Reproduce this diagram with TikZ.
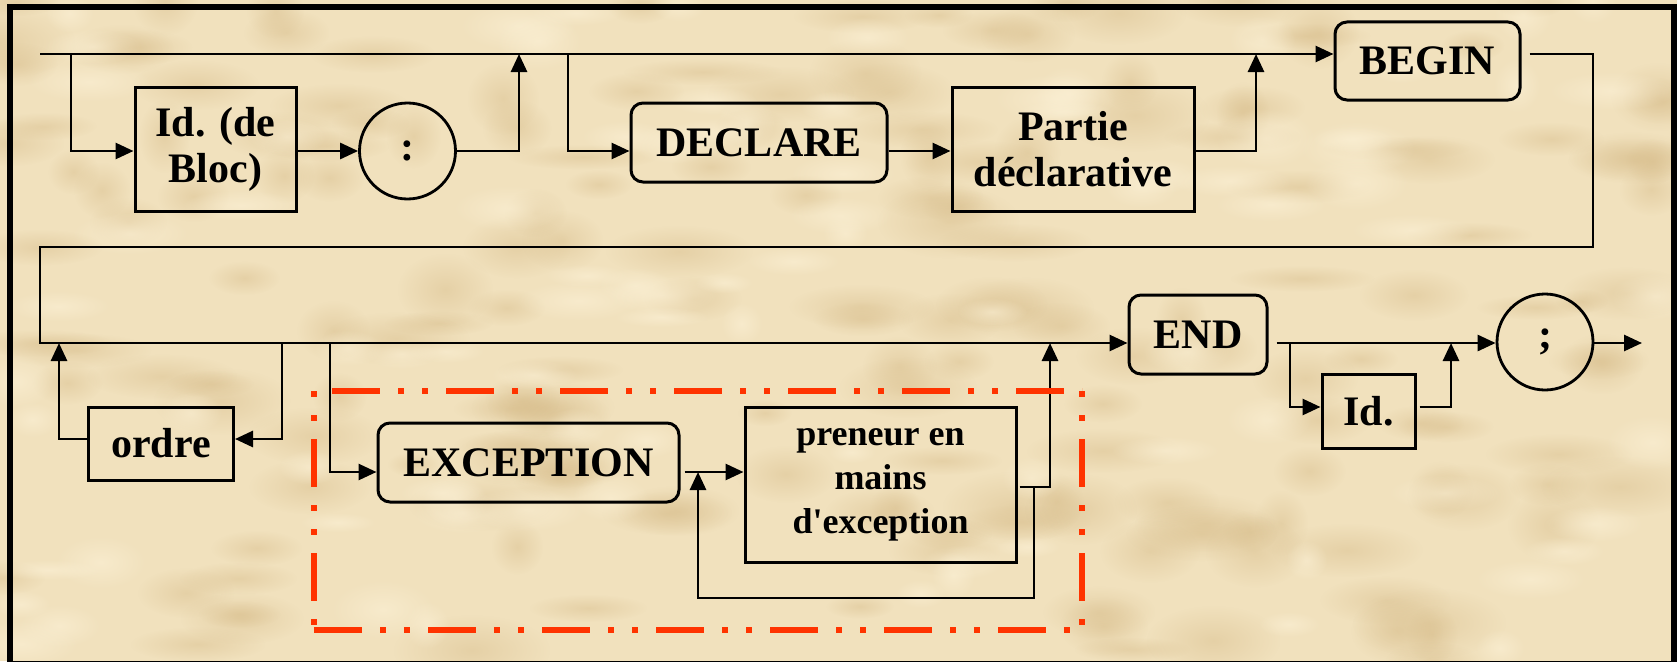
\documentclass[tikz,border=0pt]{standalone}
\usepackage{fontspec}
\setmainfont{Liberation Serif}
\usetikzlibrary{arrows.meta,fadings}
\definecolor{parch}{RGB}{241,225,189}
\definecolor{parchdark}{RGB}{212,184,132}
\definecolor{parchlight}{RGB}{252,241,214}
\definecolor{redline}{RGB}{255,51,0}
\tikzfading[name=softblob,inner color=transparent!0,outer color=transparent!100]
\begin{document}
\begin{tikzpicture}[x=1pt,y=-1pt,
  conn/.style={line width=2.8pt},
  arr/.style={conn,-{Triangle[length=18pt,width=16pt]}},
  lbl/.style={font=\bfseries\fontsize{42}{46}\selectfont},
  term/.style={lbl,draw,line width=3pt,rounded corners=12pt,inner sep=0pt},
  nonterm/.style={lbl,draw,line width=3pt,inner sep=0pt,align=center},
  sym/.style={lbl,draw,circle,line width=2.8pt,inner sep=0pt,minimum size=96pt},
  redbox/.style={draw=redline,line width=5.3pt},
  longdot/.style={dash pattern=on 48pt off 18pt on 6pt off 18pt on 6pt off 18pt},
  dotlong/.style={dash pattern=on 6pt off 18pt on 6pt off 18pt on 48pt off 18pt}
]
% page and mottled parchment
\fill[parch] (0,0) rectangle (1677,661);
\useasboundingbox (0,0) rectangle (1677,661);
\pgfmathsetseed{11}
\foreach \i in {1,...,180} {
  \pgfmathsetmacro\xx{rnd*1677}
  \pgfmathsetmacro\yy{rnd*661}
  \pgfmathsetmacro\ra{25+rnd*55}
  \pgfmathsetmacro\rb{12+rnd*25}
  \fill[parchdark,opacity=0.4,path fading=softblob]
    (\xx,\yy) ellipse ({\ra pt} and {\rb pt});
}
\foreach \i in {1,...,90} {
  \pgfmathsetmacro\xx{rnd*1677}
  \pgfmathsetmacro\yy{rnd*661}
  \pgfmathsetmacro\ra{20+rnd*45}
  \pgfmathsetmacro\rb{10+rnd*20}
  \fill[parchlight,opacity=0.6,path fading=softblob]
    (\xx,\yy) ellipse ({\ra pt} and {\rb pt});
}
\draw[line width=6pt] (10,7) rectangle (1674,664);

% first row
\node[nonterm,minimum width=161pt,minimum height=124pt] (idbloc) at (215.5,149) {Id. (de\\Bloc)};
\node[sym] (colon) at (407.5,151) {:};
\node[term,minimum width=256pt,minimum height=79pt] (declare) at (759,142.5) {DECLARE};
\node[nonterm,minimum width=242pt,minimum height=124pt] (partie) at (1073,149) {Partie\\déclarative};
\node[term,minimum width=185pt,minimum height=78pt] (begin) at (1427.5,61) {BEGIN};

% second row
\node[nonterm,minimum width=145pt,minimum height=73pt] (ordre) at (161,443.5) {ordre};
\node[term,minimum width=301pt,minimum height=79pt] (exc) at (528.5,462.5) {EXCEPTION};
\node[nonterm,minimum width=271pt,minimum height=155pt,font=\bfseries\fontsize{36}{44}\selectfont] (preneur) at (880.5,484.5) {preneur en\\mains\\d\textquotesingle exception};
\node[term,minimum width=138pt,minimum height=79pt] (end) at (1198,334.5) {END};
\node[nonterm,minimum width=93pt,minimum height=74pt] (id) at (1368.5,411) {Id.};
\node[sym] (semi) at (1545,342) {;};

% route points
\coordinate (s) at (40,54);
\coordinate (b1) at (71,54);
\coordinate (j1) at (519,54);
\coordinate (b2) at (568,54);
\coordinate (j2) at (1256,54);
\coordinate (bx) at ([xshift=8pt]begin.east);
\coordinate (w1) at (1593,54);
\coordinate (w2) at (1593,247);
\coordinate (w3) at (40,247);
\coordinate (r3) at (40,343);
\coordinate (o1) at (282,343);
\coordinate (o2) at (59,343);
\coordinate (oy) at (0,439);
\coordinate (b3) at (330,343);
\coordinate (ey) at (0,472);
\coordinate (ex) at ([xshift=4pt]exc.east);
\coordinate (py) at (0,487);
\coordinate (px) at ([xshift=2pt]preneur.east);
\coordinate (j3) at (1050,343);
\coordinate (l1) at (1034,487);
\coordinate (l2) at (1034,598);
\coordinate (l3) at (698,598);
\coordinate (l4) at (698,472);
\coordinate (ndx) at ([xshift=8pt]end.east);
\coordinate (b4) at (1290,343);
\coordinate (iy) at (0,407);
\coordinate (ix) at ([xshift=3pt]id.east);
\coordinate (j4) at (1451,343);
\coordinate (fin) at (1642,343);

% first row connectors
\draw[arr] (s) -- (s -| begin.west);
\draw[arr] (b1) |- (idbloc.west |- colon);
\draw[arr] (idbloc.east |- colon) -- (colon.west);
\draw[arr] (colon.east) -| (j1);
\draw[arr] (b2) |- (declare.west |- colon);
\draw[arr] (declare.east |- colon) -- (partie.west |- colon);
\draw[arr] (partie.east |- colon) -| (j2);
\draw[arr] (bx |- s) -- (w1) -- (w2) -- (w3) -- (r3) -- (r3 -| end.west);

% second row connectors
\draw[arr] (o1) |- (ordre.east |- oy);
\draw[arr] (ordre.west |- oy) -| (o2);
\draw[arr] (b3) |- (exc.west |- ey);
\draw[arr] (ex |- ey) -- (preneur.west |- ey);
\draw[arr] (px |- py) -| (j3);
\draw[arr] (l1) -- (l2) -- (l3) -- (l4);
\draw[arr] (ndx |- r3) -- (semi.west |- r3);
\draw[arr] (b4) |- (id.west |- iy);
\draw[arr] (ix |- iy) -| (j4);
\draw[arr] (semi.east |- r3) -- (fin);

% exception part outline
\coordinate (ra) at (314,391);
\coordinate (rb) at (1082,391);
\coordinate (rc) at (1082,630);
\coordinate (rd) at (314,630);
\draw[redbox,longdot,dash phase=96pt] (ra) -- (rb);
\draw[redbox,dotlong] (rb) -- (rc);
\draw[redbox,dotlong] (ra) -- (rd);
\draw[redbox,longdot] (rd) -- (rc);
\end{tikzpicture}
\end{document}
